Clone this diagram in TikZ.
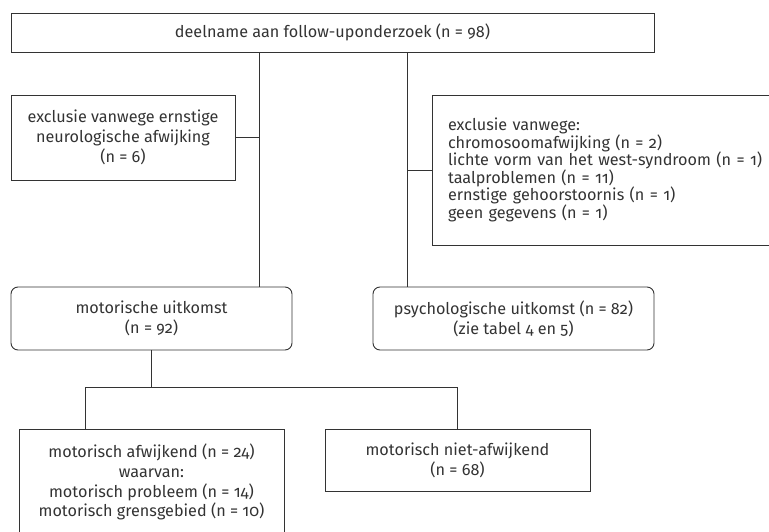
\documentclass[tikz,border=0pt]{standalone}
\usepackage{fontspec}
\setmainfont{Fira Sans}[Numbers=OldStyle]
\definecolor{ink}{HTML}{333333}
\begin{document}
\begin{tikzpicture}[x=1bp,y=-1bp,
  box/.style={draw=ink,line width=0.9bp,text=ink,inner sep=0pt,align=center,
    font=\fontsize{16.2bp}{19.8bp}\selectfont},
  rbox/.style={box,rounded corners=7bp},
  conn/.style={draw=ink,line width=0.9bp}]
\useasboundingbox (0,0) rectangle (769,532);
\clip (0,0) rectangle (769,532);
\node[box,minimum width=643bp,minimum height=39bp] (top) at (332.5,32.5) {deelname aan follow-uponderzoek (n = 98)};
\node[box,minimum width=224bp,minimum height=85bp] (exL) at (123,137.5) {exclusie vanwege ernstige\\neurologische afwijking\\(n = 6)};
\node[box,minimum height=150bp,text width=336bp,inner xsep=16bp,align=left,
  font=\fontsize{16.2bp}{17.6bp}\selectfont] (exR) at (616,170) {exclusie vanwege:\\chromosoomafwijking (n = 2)\\lichte vorm van het west-syndroom (n = 1)\\taalproblemen (n = 11)\\ernstige gehoorstoornis (n = 1)\\geen gegevens (n = 1)};
\node[rbox,minimum width=281bp,minimum height=63bp] (motor) at (151.5,318.5) {motorische uitkomst\\(n = 92)};
\node[rbox,minimum width=281bp,minimum height=63bp] (psych) at (513.5,318.5) {psychologische uitkomst (n = 82)\\(zie tabel 4 en 5)};
\node[box,minimum width=265bp,minimum height=106bp] (bl) at (151.5,482) {motorisch afwijkend (n = 24)\\waarvan:\\motorisch probleem (n = 14)\\motorisch grensgebied (n = 10)};
\node[box,minimum width=265bp,minimum height=62bp] (br) at (457.5,460) {motorisch niet-afwijkend\\(n = 68)};
\coordinate (vL) at (259,0);
\coordinate (vR) at (407,0);
\coordinate (bus) at (0,387);
\coordinate (b1) at (85,387);
\draw[conn] (top.south -| vL) -- (motor.north -| vL);
\draw[conn] (exL.east) -- (exL.east -| vL);
\draw[conn] (top.south -| vR) -- (psych.north -| vR);
\draw[conn] (exR.west) -- (exR.west -| vR);
\draw[conn] (motor.south) -- (motor.south |- bus);
\draw[conn] (bl.north -| b1) -- (b1) -- (b1 -| br.north) -- (br.north);
\end{tikzpicture}
\end{document}
